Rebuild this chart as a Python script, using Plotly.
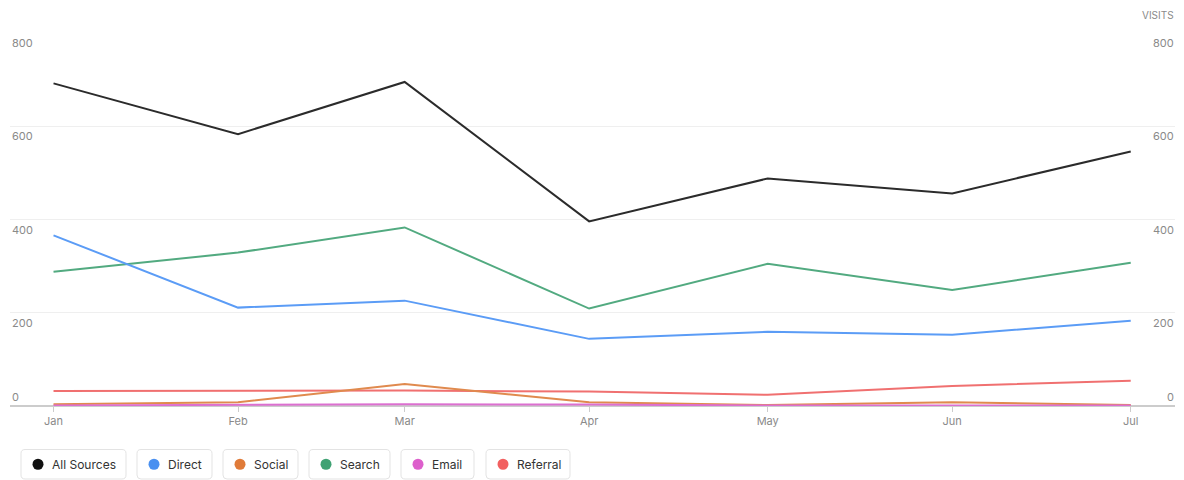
import plotly.graph_objects as go

# ---- data ----
months = ["2023-01-01", "2023-02-01", "2023-03-01", "2023-04-01",
          "2023-05-01", "2023-06-01", "2023-07-01"]
series_names = ["All Sources", "Direct", "Social", "Search", "Email", "Referral"]
all_sources = [692, 583, 695, 396, 488, 456, 546]
direct = [366, 211, 226, 144, 159, 153, 183]
social = [4, 8, 47, 8, 2, 8, 2]
search = [288, 329, 383, 209, 305, 249, 307]
email = [1, 2, 4, 3, 1, 1, 1]
referral = [32, 32, 33, 31, 24, 43, 54]
y_ticks = [0, 200, 400, 600, 800]
y_title = "VISITS"

values = [all_sources, direct, social, search, email, referral]
line_colors = ["#2b2b2b", "#5b9cf6", "#e08a4e", "#52aa80", "#dc6fd0", "#f07070"]
dot_colors = ["#111111", "#4a90f0", "#e07b39", "#3fa273", "#dd5fcc", "#f26060"]

W, H = 1184, 480
L, R, T, B = 10, 9, 33, 74
PW = W - L - R
PH = H - T - B
PLOT_BOTTOM = H - B


def px_x(px):
    return (px - L) / PW


def px_y(py):
    return (PLOT_BOTTOM - py) / PH


fig = go.Figure()
# draw order: keep All Sources on top
order = [3, 1, 5, 2, 4, 0]
for i in order:
    fig.add_trace(go.Scatter(
        x=months, y=values[i], name=series_names[i], mode="lines",
        line=dict(color=line_colors[i], width=2), showlegend=False,
        hovertemplate="%{y}<extra>" + series_names[i] + "</extra>",
    ))

annotations = []
tick_font = dict(family="Inter, Roboto, sans-serif", size=11, color="#8a8a8a")
for v in y_ticks:
    if v == 0:
        ya, ys = "bottom", 0
    else:
        ya, ys = "top", -1
    annotations.append(dict(x=0, xref="paper", y=v, yref="y", text=str(v),
                            xanchor="left", yanchor=ya, yshift=ys,
                            showarrow=False, font=tick_font))
    annotations.append(dict(x=1, xref="paper", y=v, yref="y", text=str(v),
                            xanchor="right", yanchor=ya, yshift=ys, xshift=1,
                            showarrow=False, font=tick_font))
annotations.append(dict(x=1, xref="paper", y=px_y(15), yref="paper", text=y_title,
                        xanchor="right", yanchor="middle", xshift=1, showarrow=False,
                        font=dict(family="Inter, Roboto, sans-serif", size=10, color="#8a8a8a")))

# custom legend (boxed items)
shapes = []
box_x = [(21, 126), (137, 212), (223, 298), (309, 390), (401, 474), (486, 570)]
by0, by1 = 449.5, 479
rad = 4
for (x0p, x1p), name, col in zip(box_x, series_names, dot_colors):
    def P(px, py):
        return f"{px_x(px):.6f},{px_y(py):.6f}"
    path = (f"M {P(x0p + rad, by0)} L {P(x1p - rad, by0)} Q {P(x1p, by0)} {P(x1p, by0 + rad)} "
            f"L {P(x1p, by1 - rad)} Q {P(x1p, by1)} {P(x1p - rad, by1)} "
            f"L {P(x0p + rad, by1)} Q {P(x0p, by1)} {P(x0p, by1 - rad)} "
            f"L {P(x0p, by0 + rad)} Q {P(x0p, by0)} {P(x0p + rad, by0)} Z")
    shapes.append(dict(type="path", xref="paper", yref="paper", path=path,
                       line=dict(color="#e3e3e3", width=1), fillcolor="white"))
    cx, cy, r = x0p + 17, (by0 + by1) / 2, 5.5
    shapes.append(dict(type="circle", xref="paper", yref="paper",
                       x0=px_x(cx - r), x1=px_x(cx + r), y0=px_y(cy + r), y1=px_y(cy - r),
                       line=dict(width=0), fillcolor=col))
    annotations.append(dict(x=px_x(x0p + 29), xref="paper", y=px_y(cy), yref="paper",
                            text=name, xanchor="left", yanchor="middle", showarrow=False,
                            font=dict(family="Inter, Roboto, sans-serif", size=12, color="#333333")))

fig.update_layout(
    width=W, height=H,
    margin=dict(l=L, r=R, t=T, b=B),
    paper_bgcolor="white", plot_bgcolor="white",
    showlegend=False,
    annotations=annotations, shapes=shapes,
    xaxis=dict(
        type="date",
        range=["2022-12-24 16:30", "2023-07-08 10:30"],
        tickvals=months, tickformat="%b",
        ticks="outside", ticklen=5, tickcolor="#cccccc", tickwidth=1,
        tickfont=tick_font, showgrid=False, zeroline=False,
        showline=False, fixedrange=True,
    ),
    yaxis=dict(
        range=[0, 800], tickvals=y_ticks, showticklabels=False,
        showgrid=True, gridcolor="#efefef", gridwidth=1,
        zeroline=True, zerolinecolor="#cccccc", zerolinewidth=1.5,
        showline=False, fixedrange=True,
    ),
)

fig.write_html("out.html", config={"displayModeBar": False},
               post_script="document.body.style.margin='0';document.body.style.overflow='hidden';")
